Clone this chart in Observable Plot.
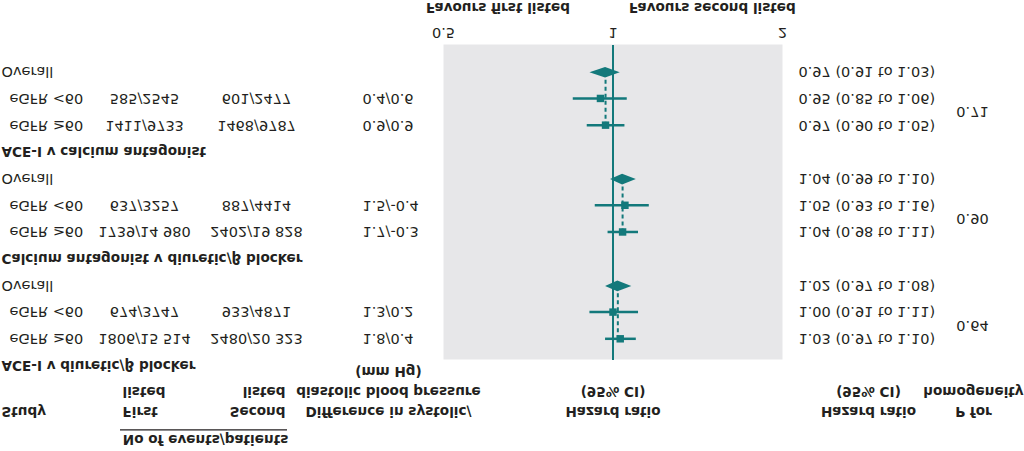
<!DOCTYPE html>
<html><head><meta charset="utf-8">
<script src="https://cdn.jsdelivr.net/npm/d3@7"></script>
<script src="https://cdn.jsdelivr.net/npm/@observablehq/plot@0.6"></script>
<style>
html,body{margin:0;padding:0;background:#fff;}
#chart{width:1024px;height:451px;transform:scaleY(-1);transform-origin:50% 50%;}
</style></head><body><div id="chart"></div>
<script>
const comparisons = ["ACE-I v diuretic/β blocker", "Calcium antagonist v diuretic/β blocker", "ACE-I v calcium antagonist"];
const subgroups = ["eGFR ≥60", "eGFR <60"];
const eventsFirst = [["1806/15 514", "674/3747"], ["1739/14 980", "637/3257"], ["1411/9733", "585/2545"]];
const eventsSecond = [["2480/20 323", "933/4871"], ["2402/19 828", "887/4414"], ["1468/9787", "601/2477"]];
const bpDiff = [["1.8/0.4", "1.3/0.2"], ["1.7/-0.3", "1.5/-0.4"], ["0.9/0.9", "0.4/0.6"]];
const subHR = [[1.03, 1.00], [1.04, 1.05], [0.97, 0.95]];
const subLo = [[0.97, 0.91], [0.98, 0.93], [0.90, 0.85]];
const subHi = [[1.10, 1.11], [1.11, 1.16], [1.05, 1.06]];
const overallHR = [1.02, 1.04, 0.97];
const overallLo = [0.97, 0.99, 0.91];
const overallHi = [1.08, 1.10, 1.03];
const pHomogeneity = ["0.64", "0.90", "0.71"];
const xTicks = [0.5, 1, 2];
const favourLabels = ["Favours first listed", "Favours second listed"];

const teal = "#13797b";
const ink = "#231f20";
const boldSize = 13.6;
const fmt = v => v.toFixed(2);

const rows = [];
const squares = [];
const diamonds = [];
const dashes = [];
const pRows = [];
comparisons.forEach((c, i) => {
  const base = i * 4;
  rows.push({kind: "header", label: c, y: base});
  subgroups.forEach((s, j) => {
    const r = {kind: "sub", label: s, y: base + 1 + j, first: eventsFirst[i][j], second: eventsSecond[i][j],
      bp: bpDiff[i][j], hr: subHR[i][j], lo: subLo[i][j], hi: subHi[i][j]};
    r.ci = `${fmt(r.hr)} (${fmt(r.lo)} to ${fmt(r.hi)})`;
    rows.push(r); squares.push(r);
  });
  const o = {kind: "overall", label: "Overall", y: base + 3, hr: overallHR[i], lo: overallLo[i], hi: overallHi[i]};
  o.ci = `${fmt(o.hr)} (${fmt(o.lo)} to ${fmt(o.hi)})`;
  rows.push(o);
  const h = 0.2;
  diamonds.push({g: i, y: o.y - h, x1: o.hr, x2: o.hr}, {g: i, y: o.y, x1: o.lo, x2: o.hi}, {g: i, y: o.y + h, x1: o.hr, x2: o.hr});
  dashes.push({x: o.hr, y1: base + 1, y2: o.y});
  pRows.push({y: base + 1.5, p: pHomogeneity[i]});
});

const L1 = -1.72, L2 = -0.97, L3 = -0.22;
const headLeft = [{t: "Study", y: L1}];
const headFirst = [{t: "First", y: L1}, {t: "listed", y: L2}];
const headSecond = [{t: "Second", y: L1}, {t: "listed", y: L2}];
const headBP = [{t: "Difference in systolic/", y: L1}, {t: "diastolic blood pressure", y: L2}, {t: "(mm Hg)", y: L3}];
const headHR = [{t: "Hazard ratio", y: L1}, {t: "(95% CI)", y: L2}];
const headP = [{t: "P for", y: L1}, {t: "homogeneity", y: L2}];
const evY = -2.77, ulY = -2.39;

const FL = 443; // frame left pixel
const FR = 782; // frame right pixel
const B = {fontWeight: "bold", fontSize: boldSize, fill: ink};

const chart = Plot.plot({
  width: 1024,
  height: 451,
  marginLeft: FL,
  marginRight: 1024 - FR,
  marginTop: 91,
  marginBottom: 45,
  style: {fontFamily: "DejaVu Sans", fontSize: "14.5px", color: ink, background: "#fff"},
  x: {type: "log", domain: [0.5, 2], label: null},
  y: {domain: [0.225, 12.02], reverse: true, axis: null},
  marks: [
    Plot.frame({fill: "#e7e7e9", stroke: "none"}),
    Plot.axisX({ticks: xTicks, tickFormat: d => String(d), tickSize: 0, tickPadding: 6, label: null, fontSize: 14.5}),
    Plot.ruleX([1], {stroke: teal, strokeWidth: 2}),
    Plot.ruleX(dashes, {x: "x", y1: "y1", y2: "y2", stroke: teal, strokeWidth: 2, strokeDasharray: "4,3"}),
    Plot.ruleY(squares, {y: "y", x1: "lo", x2: "hi", stroke: teal, strokeWidth: 2.5}),
    Plot.dot(squares, {x: "hr", y: "y", symbol: "square", r: 4.2, fill: teal, stroke: "none"}),
    Plot.areaX(diamonds, {y: "y", x1: "x1", x2: "x2", z: "g", fill: teal, curve: "linear"}),
    // row labels
    Plot.text(rows.filter(d => d.kind === "header"), {y: "y", text: "label", frameAnchor: "left", dx: -FL + 1, textAnchor: "start", ...B}),
    Plot.text(rows.filter(d => d.kind === "overall"), {y: "y", text: "label", frameAnchor: "left", dx: -FL + 1, textAnchor: "start", fill: ink}),
    Plot.text(squares, {y: "y", text: "label", frameAnchor: "left", dx: -FL + 9, textAnchor: "start", fill: ink}),
    Plot.text(squares, {y: "y", text: "first", frameAnchor: "left", dx: 144 - FL, textAnchor: "middle", fill: ink}),
    Plot.text(squares, {y: "y", text: "second", frameAnchor: "left", dx: 256 - FL, textAnchor: "middle", fill: ink}),
    Plot.text(squares, {y: "y", text: "bp", frameAnchor: "left", dx: 362 - FL, textAnchor: "start", fill: ink}),
    Plot.text(rows.filter(d => d.ci), {y: "y", text: "ci", frameAnchor: "right", dx: 798 - FR, textAnchor: "start", fill: ink}),
    Plot.text(pRows, {y: "y", text: "p", frameAnchor: "right", dx: 972 - FR, textAnchor: "middle", fill: ink}),
    // headers
    Plot.text(headLeft, {y: "y", text: "t", frameAnchor: "left", dx: -FL + 1, textAnchor: "start", ...B}),
    Plot.text(headFirst, {y: "y", text: "t", frameAnchor: "left", dx: 122 - FL, textAnchor: "start", ...B}),
    Plot.text(headSecond, {y: "y", text: "t", frameAnchor: "left", dx: 285 - FL, textAnchor: "end", ...B}),
    Plot.text(headBP, {y: "y", text: "t", frameAnchor: "left", dx: 388 - FL, textAnchor: "middle", ...B}),
    Plot.text(headHR, {y: "y", x: () => 1, text: "t", textAnchor: "middle", ...B}),
    Plot.text(headHR, {y: "y", text: "t", frameAnchor: "right", dx: 868 - FR, textAnchor: "middle", ...B}),
    Plot.text(headP, {y: "y", text: "t", frameAnchor: "right", dx: 973 - FR, textAnchor: "middle", ...B}),
    Plot.text(["No of events/patients"], {y: () => evY, text: d => d, frameAnchor: "left", dx: 205 - FL, textAnchor: "middle", ...B}),
    (index, scales) => {
      const y = scales.y(ulY);
      return d3.create("svg:line").attr("x1", 120).attr("x2", 287).attr("y1", y).attr("y2", y)
        .attr("stroke", ink).attr("stroke-width", 1.3).node();
    },
    // favours labels
    Plot.text([favourLabels[0]], {x: () => 1, text: d => d, frameAnchor: "bottom", dy: 42, dx: -43, textAnchor: "end", ...B}),
    Plot.text([favourLabels[1]], {x: () => 1, text: d => d, frameAnchor: "bottom", dy: 42, dx: 16, textAnchor: "start", ...B})
  ]
});
document.getElementById("chart").appendChild(chart);
</script></body></html>
